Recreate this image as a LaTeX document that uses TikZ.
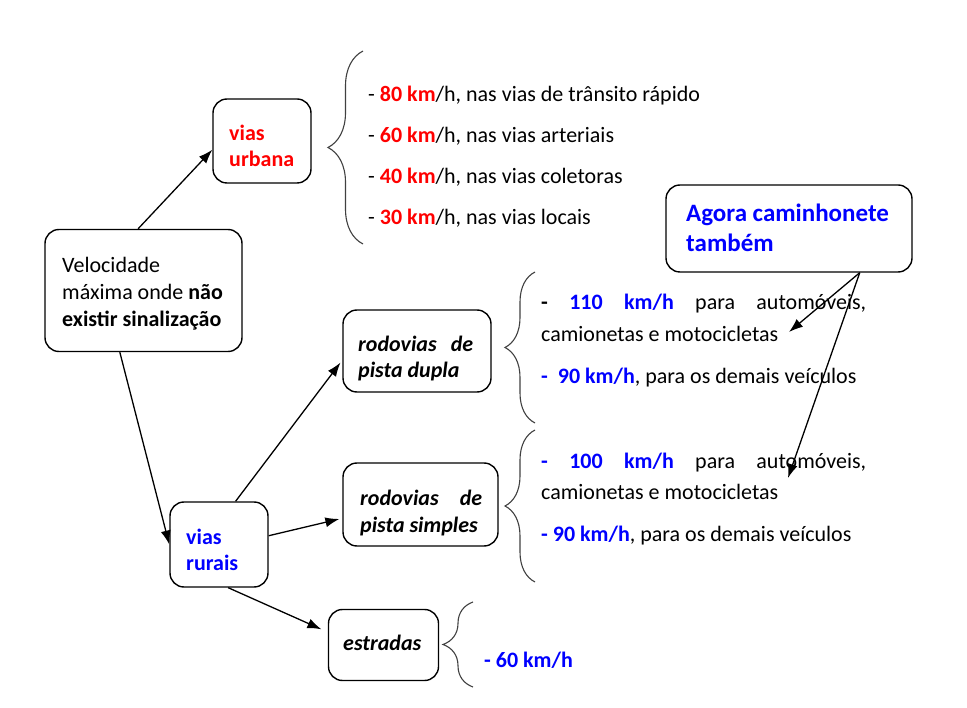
\documentclass[tikz,border=0pt]{standalone}
\usepackage{fontspec}
\setmainfont{Carlito}
\usetikzlibrary{arrows.meta,decorations.pathreplacing}
\definecolor{vred}{RGB}{255,0,0}
\definecolor{vblue}{RGB}{0,0,255}

\begin{document}
\begin{tikzpicture}[x=1pt, y=-1pt,
    box/.style={rectangle, rounded corners=14pt, draw=black, line width=1.4pt, inner sep=0pt},
    txt/.style={anchor=base west, inner sep=0pt, align=left, font=\fontsize{22}{27}\selectfont},
    hd/.style={txt, font=\fontsize{22}{26}\selectfont\bfseries},
    it/.style={txt, font=\fontsize{22}{26.5}\selectfont\bfseries\itshape},
    arrow/.style={-{Latex[length=14pt,width=10pt]}, line width=1.3pt},
    brace/.style={decorate, decoration={brace, amplitude=#1}, line width=1.1pt, draw=black!75}
  ]
    \useasboundingbox (0,0) rectangle (967,708);

    % boxes
    \node[box, minimum width=197pt, minimum height=122pt] (velo) at (143.5,290.5) {};
    \node[box, minimum width=98pt, minimum height=84pt] (urb) at (262,141) {};
    \node[box, minimum width=98pt, minimum height=85pt] (rur) at (219,544.5) {};
    \node[box, minimum width=148pt, minimum height=82pt] (dupla) at (417,351) {};
    \node[box, minimum width=155pt, minimum height=83pt] (simples) at (420.5,504.5) {};
    \node[box, minimum width=110pt, minimum height=71pt] (estr) at (383.5,645) {};
    \node[box, minimum width=246pt, minimum height=87pt] (agora) at (789,228.5) {};

    % box texts (anchored at the baseline of the last line)
    \node[txt] (veloT) at (62,327) {Velocidade\\m\'axima onde \textbf{n\~ao}\\\textbf{existir sinaliza\c{c}\~ao}};
    \node[hd, text=vred] (urbT) at (229,167) {vias\\urbana};
    \node[hd, text=vblue] (rurT) at (186,570) {vias\\rurais};
    \node[it] (duplaT) at (358,378) {\makebox[115pt][s]{rodovias de}\\pista dupla};
    \node[it] (simplesT) at (360,532) {\makebox[122pt][s]{rodovias de}\\pista simples};
    \node[it] (estrT) at (343,650) {estradas};
    \node[txt, text=vblue, font=\fontsize{25}{30}\selectfont\bfseries] (agoraT) at (686,251.5) {Agora caminhonete\\tamb\'em};

    % braces
    \draw[brace=35] (363,244) -- (363,51);
    \draw[brace=30] (535,423) -- (535,272);
    \draw[brace=30] (535,582) -- (535,430);
    \draw[brace=30] (473,687) -- (473,602);

    % speed limits
    \node[txt] (u1) at (368,102) {- \textcolor{vred}{\textbf{80 km}}/h, nas vias de tr\^ansito r\'apido};
    \node[txt] (u2) at (368,143) {- \textcolor{vred}{\textbf{60 km}}/h, nas vias arteriais};
    \node[txt] (u3) at (368,184) {- \textcolor{vred}{\textbf{40 km}}/h, nas vias coletoras};
    \node[txt] (u4) at (368,225) {- \textcolor{vred}{\textbf{30 km}}/h, nas vias locais};

    \node[txt] (d1) at (541,310) {\makebox[325pt][s]{\textbf{-} \textcolor{vblue}{\textbf{110}} \textcolor{vblue}{\textbf{km/h}} para autom\'oveis,}};
    \node[txt] (d2) at (541,342) {camionetas e motocicletas};
    \node[txt] (d3) at (541,384) {\textcolor{vblue}{\textbf{-\ \ 90 km/h}}, para os demais ve\'iculos};
    \node[txt] (s1) at (541,469) {\makebox[325pt][s]{\textcolor{vblue}{\textbf{-}} \textcolor{vblue}{\textbf{100}} \textcolor{vblue}{\textbf{km/h}} para autom\'oveis,}};
    \node[txt] (s2) at (541,500) {camionetas e motocicletas};
    \node[txt] (s3) at (541,541) {\textcolor{vblue}{\textbf{- 90 km/h}}, para os demais ve\'iculos};
    \node[txt] (e1) at (484,667) {\textcolor{vblue}{\textbf{- 60 km/h}}};

    \coordinate (car1) at (789,332);
    \coordinate (car2) at (788,478);

    % arrows
    \draw[arrow] (velo.95)   -- (urb.190);
    \draw[arrow] (velo.-111) -- (rur.180);
    \draw[arrow, shorten >=3pt] (rur.69)  -- (dupla.187);
    \draw[arrow, shorten >=3pt] (rur.10)  -- (simples.190);
    \draw[arrow, shorten >=7pt] (rur.-78) -- (estr.167);
    \draw[arrow] (agora.-32) -- (car1);
    \draw[arrow] (agora.-32) -- (car2);
\end{tikzpicture}
\end{document}
